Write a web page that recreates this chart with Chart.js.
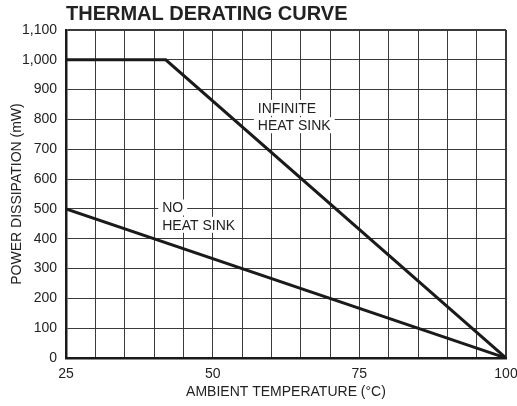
<!DOCTYPE html>
<html>
<head>
<meta charset="utf-8">
<script src="https://cdn.jsdelivr.net/npm/chart.js@4.4.0/dist/chart.umd.min.js"></script>
<style>
    html, body { margin: 0; padding: 0; background: #fff; }
    #wrap { width: 517px; height: 406px; }
</style>
</head>
<body>
<div id="wrap"><canvas id="myChart" width="517" height="406"></canvas></div>
<script>
// data
const infiniteTemps = [25, 42, 100];
const infiniteSink = [1000, 1000, 0];
const noSinkTemps = [25, 100];
const noSink = [500, 0];

const xLabels = [25, 50, 75, 100];

// labels on the plot: [lines, temp, mW of first baseline]
const curveLabels = [
    { lines: ['INFINITE', 'HEAT SINK'], x: 57.7, y: 822 },
    { lines: ['NO', 'HEAT SINK'], x: 41.4, y: 488 }
];

const FONT = '"Liberation Sans", Arial, Helvetica, sans-serif';
const INK = '#222';

function toPoints(xs, ys) {
    return xs.map((x, i) => ({ x: x, y: ys[i] }));
}

// title + curve labels
const textPlugin = {
    id: 'textPlugin',
    beforeDatasetsDraw(chart) {
        const ctx = chart.ctx;
        const xs = chart.scales.x, ys = chart.scales.y;
        ctx.save();
        ctx.font = '14px ' + FONT;
        ctx.textBaseline = 'alphabetic';
        ctx.textAlign = 'left';
        curveLabels.forEach(lbl => {
            const px = xs.getPixelForValue(lbl.x);
            const py = ys.getPixelForValue(lbl.y);
            lbl.lines.forEach((t, i) => {
                const w = ctx.measureText(t).width;
                const by = py + i * 17.3;
                ctx.fillStyle = '#fff';
                ctx.fillRect(px - 4, by - 13, w + 8, 16);
                ctx.fillStyle = INK;
                ctx.fillText(t, px, by);
            });
        });
        ctx.restore();
    },
    afterDraw(chart) {
        const ctx = chart.ctx;
        ctx.save();
        ctx.font = 'bold 20px ' + FONT;
        ctx.fillStyle = INK;
        ctx.textAlign = 'left';
        ctx.textBaseline = 'alphabetic';
        ctx.fillText('THERMAL DERATING CURVE', chart.chartArea.left, 20);
        ctx.restore();
    }
};

const ctx1 = document.getElementById('myChart');

new Chart(ctx1, {
    type: 'line',
    data: {
        datasets: [{
            label: 'Infinite heat sink',
            data: toPoints(infiniteTemps, infiniteSink),
            borderColor: '#1a1a1a',
            borderWidth: 3,
            pointRadius: 0,
            tension: 0
        }, {
            label: 'No heat sink',
            data: toPoints(noSinkTemps, noSink),
            borderColor: '#1a1a1a',
            borderWidth: 3,
            pointRadius: 0,
            tension: 0
        }]
    },
    options: {
        responsive: false,
        animation: false,
        layout: { padding: { top: 30, right: 0, left: 0, bottom: 0 } },
        plugins: {
            legend: { display: false },
            tooltip: { enabled: false },
            title: { display: false }
        },
        scales: {
            x: {
                type: 'linear',
                min: 25,
                max: 100,
                afterFit(scale) {
                    scale.height = 48;
                    scale.paddingRight = 11;
                },
                grid: {
                    color: '#3a3a3a',
                    lineWidth: c => (c.tick && c.tick.value === 100 ? 2 : 1),
                    drawTicks: false
                },
                border: { display: true, color: '#1a1a1a', width: 2.5 },
                ticks: {
                    stepSize: 5,
                    autoSkip: false,
                    maxRotation: 0,
                    padding: 8,
                    color: INK,
                    font: { family: FONT, size: 14 },
                    callback: v => (xLabels.includes(v) ? String(v) : '')
                },
                title: {
                    display: true,
                    text: 'AMBIENT TEMPERATURE (°C)',
                    color: INK,
                    font: { family: FONT, size: 14 },
                    padding: { top: 0, bottom: 5 }
                }
            },
            y: {
                min: 0,
                max: 1100,
                afterFit(scale) { scale.width = 66; },
                grid: {
                    color: '#3a3a3a',
                    lineWidth: c => (c.tick && c.tick.value === 1100 ? 2 : 1),
                    drawTicks: false
                },
                border: { display: true, color: '#1a1a1a', width: 2.5 },
                ticks: {
                    stepSize: 100,
                    padding: 9,
                    color: INK,
                    font: { family: FONT, size: 14 }
                },
                title: {
                    display: true,
                    text: 'POWER DISSIPATION (mW)',
                    color: INK,
                    font: { family: FONT, size: 14 },
                    padding: { top: 9, bottom: 0 }
                }
            }
        }
    },
    plugins: [textPlugin]
});
</script>
</body>
</html>
